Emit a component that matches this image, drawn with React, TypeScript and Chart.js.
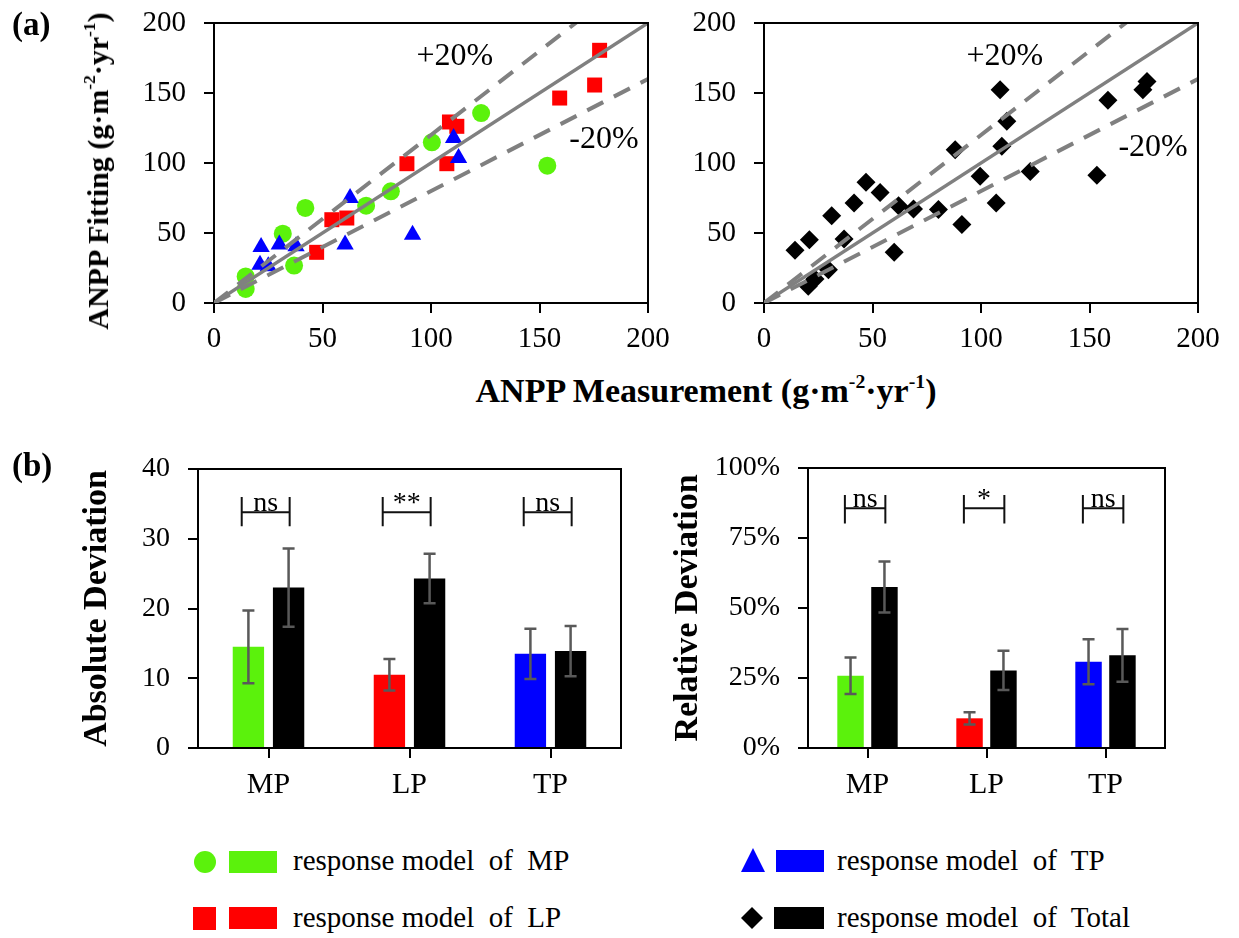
import React, { useEffect, useRef } from 'react';
import { Chart, registerables } from 'chart.js';

Chart.register(...registerables);

const FONT = '"Liberation Serif", "Times New Roman", "DejaVu Serif", serif';
const GREEN = '#5BF20C';
const RED = '#FF0000';
const BLUE = '#0000FF';
const BLACK = '#000000';
const GRAY = '#808080';

// ---------- (a) scatter data: ANPP measurement vs fitting ----------
const mpMeasured = [14.6, 14.6, 31.7, 36.9, 42.1, 70.1, 81.5, 100.4, 123.1, 153.6];
const mpFitted = [10, 19, 49.5, 26.7, 67.9, 69.5, 79.8, 114.8, 135.7, 98.1];
const lpMeasured = [177.7, 175.4, 159.3, 108.5, 111.9, 88.9, 107.3, 54.3, 61.2, 47.3];
const lpFitted = [180.5, 155.7, 146.4, 129.3, 126.2, 99.5, 99.5, 59.5, 60.7, 36.2];
const tpMeasured = [110.4, 112.7, 62.7, 60.4, 91.5, 21.7, 30.1, 37.8, 21.2, 25];
const tpFitted = [117.9, 103.6, 75, 41.7, 48.8, 40, 41.7, 40.5, 27.4, 26.2];
const totalMeasured = [176.5, 174.6, 158.5, 108.8, 111.9, 109.6, 88.1, 99.6, 122.7, 153.4, 107, 91.2, 80.4, 68.9, 62, 53.5, 47, 41.5, 31.2, 36.9, 60, 20.9, 14.3, 29.7, 23.5, 20.4];
const totalFitted = [158.3, 152.4, 144.8, 152.4, 129.8, 111.9, 109.5, 90.5, 94, 91.2, 71.4, 56, 66.7, 67.1, 69.5, 79, 86.2, 71.4, 62.4, 45.7, 36.2, 45.2, 37.6, 23.8, 17.1, 11.9];

// reference lines (1:1, +20 %, -20 %)
const refX = [0, 200];
const oneToOneY = [0, 200];
const plus20Y = [0, 240];
const minus20Y = [0, 160];
const scatterTicks = [0, 50, 100, 150, 200];

// ---------- (b) bar data ----------
const categories = ['MP', 'LP', 'TP'];
const modelColors = [GREEN, RED, BLUE];
const absModel = [14.5, 10.5, 13.5];
const absModelErr = [5.2, 2.25, 3.6];
const absTotal = [23.0, 24.3, 13.9];
const absTotalErr = [5.6, 3.55, 3.6];
const relModel = [25.8, 10.6, 30.8];
const relModelErr = [6.5, 2.2, 8.0];
const relTotal = [57.5, 27.7, 33.1];
const relTotalErr = [9.1, 7.0, 9.4];
const absSig = ['ns', '**', 'ns'];
const relSig = ['ns', '*', 'ns'];

const pts = (xs: number[], ys: number[]) => xs.map((x, i) => ({ x, y: ys[i] }));

// ---------- plugins ----------
const framePlugin = {
  id: 'frame',
  afterDraw(chart: any) {
    const { ctx, chartArea: a } = chart;
    ctx.save();
    ctx.strokeStyle = '#000';
    ctx.lineWidth = 2;
    ctx.beginPath();
    ctx.moveTo(a.left - 1, a.top);
    ctx.lineTo(a.right, a.top);
    ctx.lineTo(a.right, a.bottom + 1);
    ctx.stroke();
    ctx.restore();
  },
};

const bandTextPlugin = {
  id: 'bandText',
  afterDatasetsDraw(chart: any, _args: any, opts: any) {
    const { ctx } = chart;
    const xs = chart.scales.x;
    const ys = chart.scales.y;
    ctx.save();
    ctx.font = `32px ${FONT}`;
    ctx.fillStyle = '#000';
    ctx.textAlign = 'center';
    ctx.textBaseline = 'middle';
    (opts.items || []).forEach((it: any) => {
      ctx.fillText(it.text, xs.getPixelForValue(it.x), ys.getPixelForValue(it.y));
    });
    ctx.restore();
  },
};

const errorBarPlugin = {
  id: 'errorBars',
  afterDatasetsDraw(chart: any, _args: any, opts: any) {
    const { ctx } = chart;
    const ys = chart.scales.y;
    ctx.save();
    ctx.strokeStyle = '#595959';
    ctx.lineWidth = 2.5;
    chart.data.datasets.forEach((ds: any, i: number) => {
      const meta = chart.getDatasetMeta(i);
      const errs: number[] = opts.errors[i];
      meta.data.forEach((bar: any, j: number) => {
        const v = ds.data[j];
        const e = errs[j];
        const yt = ys.getPixelForValue(v + e);
        const yb = ys.getPixelForValue(v - e);
        const cx = bar.x;
        ctx.beginPath();
        ctx.moveTo(cx, yt);
        ctx.lineTo(cx, yb);
        ctx.moveTo(cx - 6, yt);
        ctx.lineTo(cx + 6, yt);
        ctx.moveTo(cx - 6, yb);
        ctx.lineTo(cx + 6, yb);
        ctx.stroke();
      });
    });
    ctx.restore();
  },
};

const sigPlugin = {
  id: 'sig',
  afterDatasetsDraw(chart: any, _args: any, opts: any) {
    const { ctx } = chart;
    const xs = chart.scales.x;
    const ys = chart.scales.y;
    const cw = xs.getPixelForValue(1) - xs.getPixelForValue(0);
    const yl = ys.getPixelForValue(opts.line);
    const yt = ys.getPixelForValue(opts.top);
    const yb = ys.getPixelForValue(opts.bottom);
    ctx.save();
    ctx.strokeStyle = '#111';
    ctx.lineWidth = 2;
    ctx.fillStyle = '#000';
    ctx.font = `28px ${FONT}`;
    ctx.textAlign = 'center';
    ctx.textBaseline = 'alphabetic';
    opts.labels.forEach((lab: string, j: number) => {
      const c = xs.getPixelForValue(j);
      const l = c - 0.19 * cw;
      const r = c + 0.15 * cw;
      ctx.beginPath();
      ctx.moveTo(l, yt);
      ctx.lineTo(l, yb);
      ctx.moveTo(r, yt);
      ctx.lineTo(r, yb);
      ctx.moveTo(l, yl);
      ctx.lineTo(r, yl);
      ctx.stroke();
      ctx.fillText(lab, (l + r) / 2, yl - 1);
    });
    ctx.restore();
  },
};

// ---------- axis helpers ----------
const axisGrid = { drawOnChartArea: false, drawTicks: true, tickLength: 10, color: '#000', lineWidth: 2 };
const axisBorder = { display: true, color: '#000', width: 2 };
const fitY = (w: number) => (s: any) => { s.width = w; s.paddingTop = 0; s.paddingBottom = 0; };
const fitX = (h: number) => (s: any) => { s.height = h; s.paddingLeft = 0; s.paddingRight = 0; };

function scatterConfig(opts: {
  datasets: any[];
  yWidth: number;
  padTop: number;
  padRight: number;
  xHeight: number;
  bandItems: any[];
}) {
  const tickFont = { family: FONT, size: 29 };
  return {
    type: 'scatter',
    data: { datasets: opts.datasets },
    options: {
      animation: false,
      responsive: false,
      devicePixelRatio: 1,
      events: [],
      layout: { padding: { top: opts.padTop, right: opts.padRight, left: 0, bottom: 0 } },
      plugins: { legend: { display: false }, tooltip: { enabled: false }, bandText: { items: opts.bandItems } },
      scales: {
        x: {
          type: 'linear',
          min: scatterTicks[0],
          max: scatterTicks[scatterTicks.length - 1],
          afterBuildTicks: (s: any) => { s.ticks = scatterTicks.map((v) => ({ value: v })); },
          ticks: { color: '#000', font: tickFont, padding: 9, maxRotation: 0 },
          grid: axisGrid,
          border: axisBorder,
          afterFit: fitX(opts.xHeight),
        },
        y: {
          type: 'linear',
          min: scatterTicks[0],
          max: scatterTicks[scatterTicks.length - 1],
          afterBuildTicks: (s: any) => { s.ticks = scatterTicks.map((v) => ({ value: v })); },
          ticks: { color: '#000', font: tickFont, padding: 18 },
          grid: axisGrid,
          border: axisBorder,
          afterFit: fitY(opts.yWidth),
        },
      },
    },
    plugins: [framePlugin, bandTextPlugin],
  };
}

function refLineDatasets() {
  return [
    { type: 'line', data: pts(refX, oneToOneY), borderColor: GRAY, borderWidth: 3.5, pointRadius: 0, order: 0 },
    { type: 'line', data: pts(refX, plus20Y), borderColor: GRAY, borderWidth: 4, borderDash: [18, 12], pointRadius: 0, order: 0 },
    { type: 'line', data: pts(refX, minus20Y), borderColor: GRAY, borderWidth: 4, borderDash: [18, 12], pointRadius: 0, order: 0 },
  ];
}

function barConfig(opts: {
  model: number[];
  modelErr: number[];
  total: number[];
  totalErr: number[];
  max: number;
  step: number;
  pct: boolean;
  yTitle: string;
  titlePad: number;
  yWidth: number;
  padTop: number;
  padRight: number;
  xHeight: number;
  sig: string[];
  sigLine: number;
  sigTop: number;
  sigBottom: number;
}) {
  return {
    type: 'bar',
    data: {
      labels: categories,
      datasets: [
        { label: 'response model', data: opts.model, backgroundColor: modelColors, borderWidth: 0, barPercentage: 0.78, categoryPercentage: 0.57 },
        { label: 'Total', data: opts.total, backgroundColor: BLACK, borderWidth: 0, barPercentage: 0.78, categoryPercentage: 0.57 },
      ],
    },
    options: {
      animation: false,
      responsive: false,
      devicePixelRatio: 1,
      events: [],
      layout: { padding: { top: opts.padTop, right: opts.padRight, left: 0, bottom: 0 } },
      plugins: {
        legend: { display: false },
        tooltip: { enabled: false },
        errorBars: { errors: [opts.modelErr, opts.totalErr] },
        sig: { labels: opts.sig, line: opts.sigLine, top: opts.sigTop, bottom: opts.sigBottom },
      },
      scales: {
        x: {
          type: 'category',
          offset: true,
          ticks: { color: '#000', font: { family: FONT, size: 30 }, padding: 9 },
          grid: { ...axisGrid, offset: false },
          border: axisBorder,
          afterFit: fitX(opts.xHeight),
        },
        y: {
          type: 'linear',
          min: 0,
          max: opts.max,
          ticks: {
            stepSize: opts.step,
            color: '#000',
            font: { family: FONT, size: 28 },
            padding: 18,
            callback: (v: any) => (opts.pct ? `${v}%` : `${v}`),
          },
          grid: axisGrid,
          border: axisBorder,
          title: {
            display: true,
            text: opts.yTitle,
            color: '#000',
            font: { family: FONT, size: 34, weight: 'bold', lineHeight: 1 },
            padding: { top: opts.titlePad, bottom: 0 },
          },
          afterFit: fitY(opts.yWidth),
        },
      },
    },
    plugins: [framePlugin, errorBarPlugin, sigPlugin],
  };
}

function ChartPanel({ left, top, width, height, make }: { left: number; top: number; width: number; height: number; make: () => any }) {
  const ref = useRef<HTMLCanvasElement>(null);
  useEffect(() => {
    const chart = new Chart(ref.current as HTMLCanvasElement, make());
    return () => chart.destroy();
  }, []);
  return <canvas ref={ref} width={width} height={height} style={{ position: 'absolute', left, top, width, height }} />;
}

const legendFont = `29px ${FONT}`;

function LegendText({ left, top, text }: { left: number; top: number; text: string }) {
  return (
    <div style={{ position: 'absolute', left, top, font: legendFont, lineHeight: '29px', whiteSpace: 'pre', color: '#000' }}>{text}</div>
  );
}

function Swatch({ left, top, width, height, color }: any) {
  return <div style={{ position: 'absolute', left, top, width, height, background: color }} />;
}

export default function App() {
  const supStyle: React.CSSProperties = { fontSize: '0.58em', position: 'relative', top: '-0.72em' };
  return (
    <div style={{ position: 'absolute', left: 0, top: 0, width: 1239, height: 938, background: '#fff', overflow: 'hidden' }}>
      <ChartPanel
        left={0}
        top={0}
        width={670}
        height={370}
        make={() =>
          scatterConfig({
            datasets: [
              ...refLineDatasets(),
              { label: 'TP', data: pts(tpMeasured, tpFitted), pointStyle: 'triangle', pointRadius: 10, backgroundColor: BLUE, borderWidth: 0, order: 1 },
              { label: 'LP', data: pts(lpMeasured, lpFitted), pointStyle: 'rect', pointRadius: 10.6, backgroundColor: RED, borderWidth: 0, order: 2 },
              { label: 'MP', data: pts(mpMeasured, mpFitted), pointStyle: 'circle', pointRadius: 9, backgroundColor: GREEN, borderWidth: 0, order: 3 },
            ],
            yWidth: 214,
            padTop: 23,
            padRight: 22,
            xHeight: 67,
            bandItems: [
              { text: '+20%', x: 111, y: 175.7 },
              { text: '-20%', x: 179.7, y: 116.4 },
            ],
          })
        }
      />
      <ChartPanel
        left={680}
        top={0}
        width={559}
        height={370}
        make={() =>
          scatterConfig({
            datasets: [
              ...refLineDatasets(),
              { label: 'Total', data: pts(totalMeasured, totalFitted), pointStyle: 'rectRot', pointRadius: 9.5, backgroundColor: BLACK, borderWidth: 0, order: 1 },
            ],
            yWidth: 84,
            padTop: 23,
            padRight: 41,
            xHeight: 67,
            bandItems: [
              { text: '+20%', x: 111, y: 175.7 },
              { text: '-20%', x: 179.3, y: 110.7 },
            ],
          })
        }
      />
      <ChartPanel
        left={0}
        top={420}
        width={660}
        height={400}
        make={() =>
          barConfig({
            model: absModel,
            modelErr: absModelErr,
            total: absTotal,
            totalErr: absTotalErr,
            max: 40,
            step: 10,
            pct: false,
            yTitle: 'Absolute Deviation',
            titlePad: 80,
            yWidth: 198,
            padTop: 49,
            padRight: 39,
            xHeight: 72,
            sig: absSig,
            sigLine: 33.8,
            sigTop: 36,
            sigBottom: 31.8,
          })
        }
      />
      <ChartPanel
        left={650}
        top={420}
        width={589}
        height={400}
        make={() =>
          barConfig({
            model: relModel,
            modelErr: relModelErr,
            total: relTotal,
            totalErr: relTotalErr,
            max: 100,
            step: 25,
            pct: true,
            yTitle: 'Relative Deviation',
            titlePad: 21,
            yWidth: 158,
            padTop: 48,
            padRight: 74,
            xHeight: 72,
            sig: relSig,
            sigLine: 85.6,
            sigTop: 90.4,
            sigBottom: 80.2,
          })
        }
      />

      <div style={{ position: 'absolute', left: 12, top: 8, font: `bold 33px ${FONT}`, lineHeight: '33px' }}>(a)</div>
      <div style={{ position: 'absolute', left: 12, top: 449, font: `bold 33px ${FONT}`, lineHeight: '33px' }}>(b)</div>

      <div
        style={{
          position: 'absolute',
          left: 100,
          top: 171,
          transform: 'translate(-50%, -50%) rotate(-90deg)',
          font: `bold 30px ${FONT}`,
          lineHeight: '30px',
          whiteSpace: 'nowrap',
        }}
      >
        ANPP Fitting (g·m<span style={supStyle}>-2</span>·yr<span style={supStyle}>-1</span>)
      </div>
      <div
        style={{
          position: 'absolute',
          left: 706,
          top: 374,
          transform: 'translateX(-50%)',
          font: `bold 34px ${FONT}`,
          lineHeight: '34px',
          whiteSpace: 'nowrap',
        }}
      >
        ANPP Measurement (g·m<span style={supStyle}>-2</span>·yr<span style={supStyle}>-1</span>)
      </div>

      {/* legend */}
      <svg style={{ position: 'absolute', left: 194, top: 851 }} width={22} height={22}>
        <circle cx={11} cy={11} r={11} fill={GREEN} />
      </svg>
      <Swatch left={229} top={851} width={48} height={22} color={GREEN} />
      <LegendText left={293} top={846} text="response model  of  MP" />

      <svg style={{ position: 'absolute', left: 193, top: 907 }} width={23} height={23}>
        <rect x={0} y={0} width={23} height={23} fill={RED} />
      </svg>
      <Swatch left={229} top={907} width={48} height={22} color={RED} />
      <LegendText left={293} top={903} text="response model  of  LP" />

      <svg style={{ position: 'absolute', left: 741, top: 848 }} width={24} height={24}>
        <polygon points="12,0 24,24 0,24" fill={BLUE} />
      </svg>
      <Swatch left={776} top={850} width={48} height={22} color={BLUE} />
      <LegendText left={837} top={846} text="response model  of  TP" />

      <svg style={{ position: 'absolute', left: 741, top: 907 }} width={22} height={22}>
        <polygon points="11,0 22,11 11,22 0,11" fill={BLACK} />
      </svg>
      <Swatch left={774} top={907} width={50} height={22} color={BLACK} />
      <LegendText left={837} top={903} text="response model  of  Total" />
    </div>
  );
}
